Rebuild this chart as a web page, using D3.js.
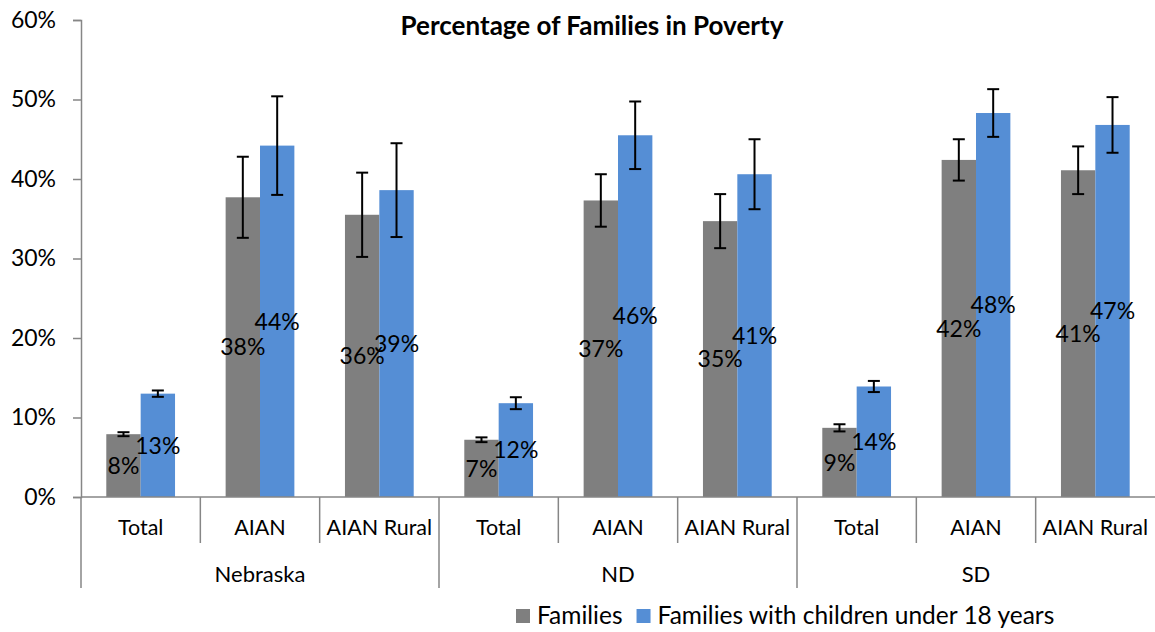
<!DOCTYPE html>
<html>
<head>
<meta charset="utf-8">
<script src="https://cdn.jsdelivr.net/npm/d3@7"></script>
<style>
  body { margin: 0; background: #fff; }
  text { font-family: Lato, "Open Sans", sans-serif; fill: #000; }
</style>
</head>
<body>
<script>
var width = 1155;
var height = 632;

var margin = {top: 20, bottom: 135, left: 81, right: 0};

// data (percent)
var states = ["Nebraska", "ND", "SD"];
var categories = ["Total", "AIAN", "AIAN Rural"];
var seriesNames = ["Families", "Families with children under 18 years"];
var families = [7.9, 37.7, 35.5, 7.2, 37.3, 34.7, 8.7, 42.4, 41.1];
var familiesErr = [0.25, 5.1, 5.3, 0.3, 3.3, 3.4, 0.45, 2.6, 3.0];
var children = [13.0, 44.2, 38.6, 11.8, 45.5, 40.6, 13.9, 48.3, 46.8];
var childrenErr = [0.4, 6.2, 5.9, 0.75, 4.25, 4.4, 0.7, 3.0, 3.5];
var yTicks = [0, 10, 20, 30, 40, 50, 60];
var colors = ["#7f7f7f", "#558ed5"];

var keys = [];
states.forEach(function(s){
    categories.forEach(function(c){
        keys.push(s + "|" + c);
    });
});

var rows = keys.map(function(k, i){
    return {key: k, state: k.split("|")[0], cat: k.split("|")[1], i: i,
        vals: [{s: 0, v: families[i], e: familiesErr[i]},
               {s: 1, v: children[i], e: childrenErr[i]}]};
});

var svg = d3.select("body").append("svg")
    .attr("width", width)
    .attr("height", height);

var plotBottom = 497;

var xScale = d3.scaleBand()
    .domain(keys)
    .range([margin.left, width - margin.right])
    .paddingInner(0.424)
    .paddingOuter(0.212);

var xInner = d3.scaleBand()
    .domain([0, 1])
    .range([0, xScale.bandwidth()]);

var yScale = d3.scaleLinear()
    .domain([0, 60])
    .range([plotBottom, margin.top]);

// title
svg.append("text")
    .attr("x", 592)
    .attr("y", 35)
    .attr("text-anchor", "middle")
    .style("font-size", "26px")
    .style("font-weight", "bold")
    .text("Percentage of Families in Poverty");

// y axis
var yAxis = svg.append("g")
    .attr("transform", "translate(" + margin.left + ",0)")
    .call(d3.axisLeft(yScale)
        .tickValues(yTicks)
        .tickFormat(function(d){ return d + "%"; })
        .tickSize(8)
        .tickPadding(17));
yAxis.selectAll("path, line").attr("stroke", "#868686").attr("stroke-width", 1.5);
yAxis.selectAll("text").style("font-size", "23px").attr("fill", "#000");

// bars
var groups = svg.selectAll(".grp")
    .data(rows)
    .enter()
    .append("g")
    .attr("transform", function(d){ return "translate(" + xScale(d.key) + ",0)"; });

groups.selectAll("rect")
    .data(function(d){ return d.vals; })
    .enter()
    .append("rect")
        .attr("x", function(d){ return xInner(d.s); })
        .attr("y", function(d){ return yScale(d.v); })
        .attr("width", xInner.bandwidth())
        .attr("height", function(d){ return plotBottom - yScale(d.v); })
        .attr("fill", function(d){ return colors[d.s]; });

// error bars
var err = groups.selectAll(".err")
    .data(function(d){ return d.vals; })
    .enter()
    .append("g")
    .attr("stroke", "#000")
    .attr("stroke-width", 2);

err.append("line")
    .attr("x1", function(d){ return xInner(d.s) + xInner.bandwidth() / 2; })
    .attr("x2", function(d){ return xInner(d.s) + xInner.bandwidth() / 2; })
    .attr("y1", function(d){ return yScale(d.v + d.e); })
    .attr("y2", function(d){ return yScale(d.v - d.e); });

[1, -1].forEach(function(sign){
    err.append("line")
        .attr("x1", function(d){ return xInner(d.s) + xInner.bandwidth() / 2 - 6; })
        .attr("x2", function(d){ return xInner(d.s) + xInner.bandwidth() / 2 + 6; })
        .attr("y1", function(d){ return yScale(d.v + sign * d.e); })
        .attr("y2", function(d){ return yScale(d.v + sign * d.e); });
});

// data labels, middle of each bar
groups.selectAll(".lbl")
    .data(function(d){ return d.vals; })
    .enter()
    .append("text")
        .attr("x", function(d){ return xInner(d.s) + xInner.bandwidth() / 2; })
        .attr("y", function(d){ return (yScale(d.v) + plotBottom) / 2; })
        .attr("dy", "0.36em")
        .attr("text-anchor", "middle")
        .style("font-size", "23px")
        .text(function(d){ return Math.round(d.v) + "%"; });

// x axis line
svg.append("line")
    .attr("x1", margin.left).attr("x2", width)
    .attr("y1", plotBottom).attr("y2", plotBottom)
    .attr("stroke", "#868686").attr("stroke-width", 1.5);

var gap = (xScale.step() - xScale.bandwidth()) / 2;

// separators between categories, long ones between states
svg.selectAll(".sep")
    .data(rows)
    .enter()
    .append("line")
        .attr("x1", function(d){ return xScale(d.key) - gap; })
        .attr("x2", function(d){ return xScale(d.key) - gap; })
        .attr("y1", plotBottom)
        .attr("y2", function(d){ return d.i % 3 === 0 ? 588 : 543; })
        .attr("stroke", "#868686")
        .attr("stroke-width", 1.5);

// category labels
svg.selectAll(".cat")
    .data(rows)
    .enter()
    .append("text")
        .attr("x", function(d){ return xScale(d.key) + xScale.bandwidth() / 2; })
        .attr("y", 527)
        .attr("dy", "0.36em")
        .attr("text-anchor", "middle")
        .style("font-size", "21.5px")
        .text(function(d){ return d.cat; });

// state labels
svg.selectAll(".state")
    .data(states)
    .enter()
    .append("text")
        .attr("x", function(s){
            var a = xScale(s + "|" + categories[0]);
            var b = xScale(s + "|" + categories[2]) + xScale.bandwidth();
            return (a + b) / 2;
        })
        .attr("y", 574)
        .attr("dy", "0.36em")
        .attr("text-anchor", "middle")
        .style("font-size", "22px")
        .text(function(s){ return s; });

// legend
var legend = svg.append("g").attr("transform", "translate(516,616)");
var lx = 0;
seriesNames.forEach(function(name, i){
    legend.append("rect")
        .attr("x", lx).attr("y", -7)
        .attr("width", 14).attr("height", 14)
        .attr("fill", colors[i]);
    var t = legend.append("text")
        .attr("x", lx + 21)
        .attr("y", 8)
        .style("font-size", "24.5px")
        .text(name);
    lx += 21 + t.node().getComputedTextLength() + 14;
});
</script>
</body>
</html>
